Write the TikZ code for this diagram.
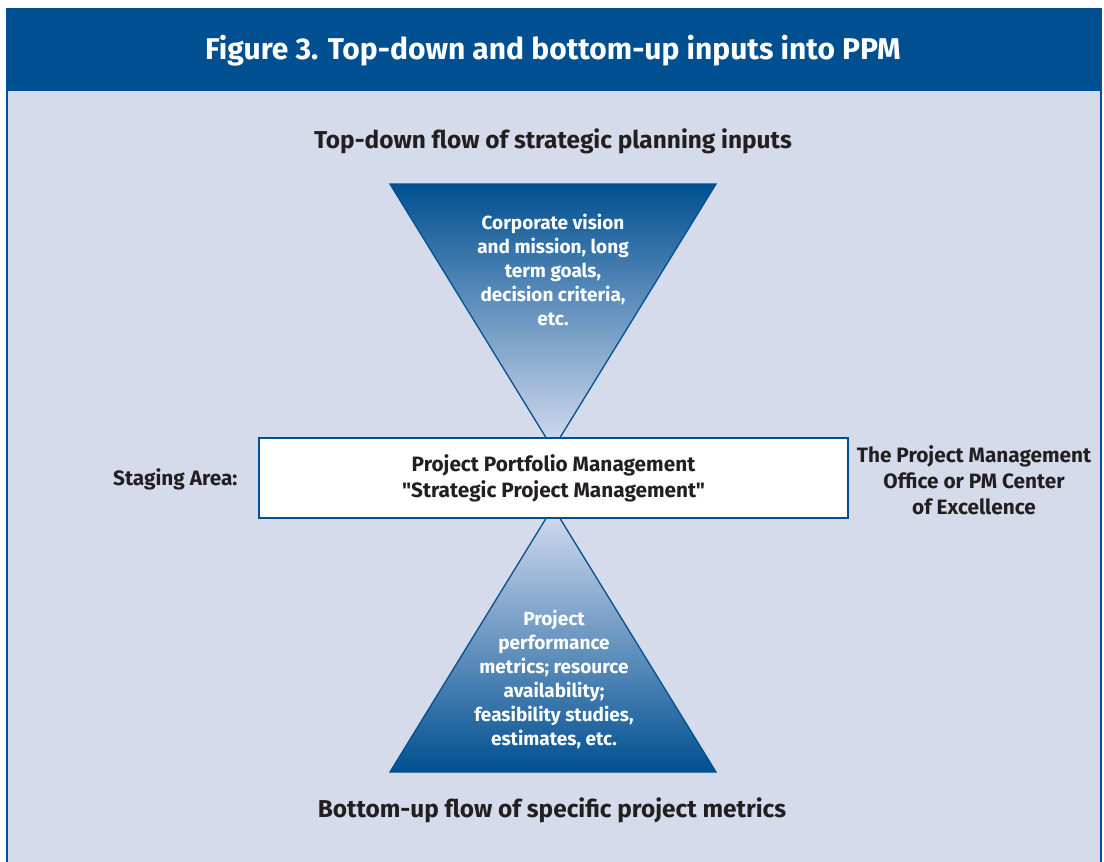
\documentclass[tikz,border=0pt]{standalone}
\usepackage{fontspec}
\setmainfont{Fira Sans}[Ligatures=TeXOff]
\usetikzlibrary{positioning}
\definecolor{ppmblue}{RGB}{0,80,145}
\definecolor{ppmpale}{RGB}{213,219,235}
\definecolor{ppmapex}{RGB}{214,221,240}
\definecolor{ppmtext}{RGB}{35,31,32}
\begin{document}
\begin{tikzpicture}[x=1pt,y=-1pt,
    funnel/.style={draw=ppmblue,line width=1.3pt,line join=miter},
    wtext/.style={text=white,font=\bfseries\fontsize{19}{24}\selectfont,align=center},
    btext/.style={text=ppmtext,font=\bfseries\fontsize{20.8}{26}\selectfont,align=center},
    flowtext/.style={text=ppmtext,font=\bfseries\fontsize{24.4}{28}\selectfont}]
  \useasboundingbox (0,0) rectangle (1104,862);
  % frame and title bar
  \fill[ppmpale] (7,9) rectangle (1101,870);
  \fill[ppmblue] (7,9) rectangle (1101,91);
  \draw[ppmblue,line width=2pt] (7,870) -- (7,9) -- (1101,9) -- (1101,870);
  \node[text=white,font=\bfseries\fontsize{30}{32}\selectfont] (title) at (553,51)
    {Figure 3. Top-down and bottom-up inputs into PPM};
  \node[flowtext] (topflow) at (553,141) {Top-down flow of strategic planning inputs};
  \node[flowtext] (botflow) at (552,810) {Bottom-up flow of specific project metrics};

  % the two funnels
  \draw[funnel,top color=ppmblue,bottom color=ppmapex] (390,184) -- (716,184) -- (553,449) -- cycle;
  \draw[funnel,top color=ppmapex,bottom color=ppmblue] (553,507) -- (716,772) -- (390,772) -- cycle;
  \node[wtext] (strategy) at (553,270)
    {Corporate vision\\and mission, long\\term goals,\\decision criteria,\\etc.};
  \node[wtext] (metrics) at (554,679)
    {Project\\performance\\metrics; resource\\availability;\\feasibility studies,\\estimates, etc.};

  % staging area
  \draw[fill=white,draw=ppmblue,line width=1.3pt] (259,438) rectangle (848,518);
  \node[btext] (ppm) at (553.5,478)
    {Project Portfolio Management\\"Strategic Project Management"};
  \node[btext,anchor=east] (staging) at (241,479) {Staging Area:};
  \node[btext] (pmo) at (974,480)
    {The Project Management\\Office or PM Center\\of Excellence};
\end{tikzpicture}
\end{document}
